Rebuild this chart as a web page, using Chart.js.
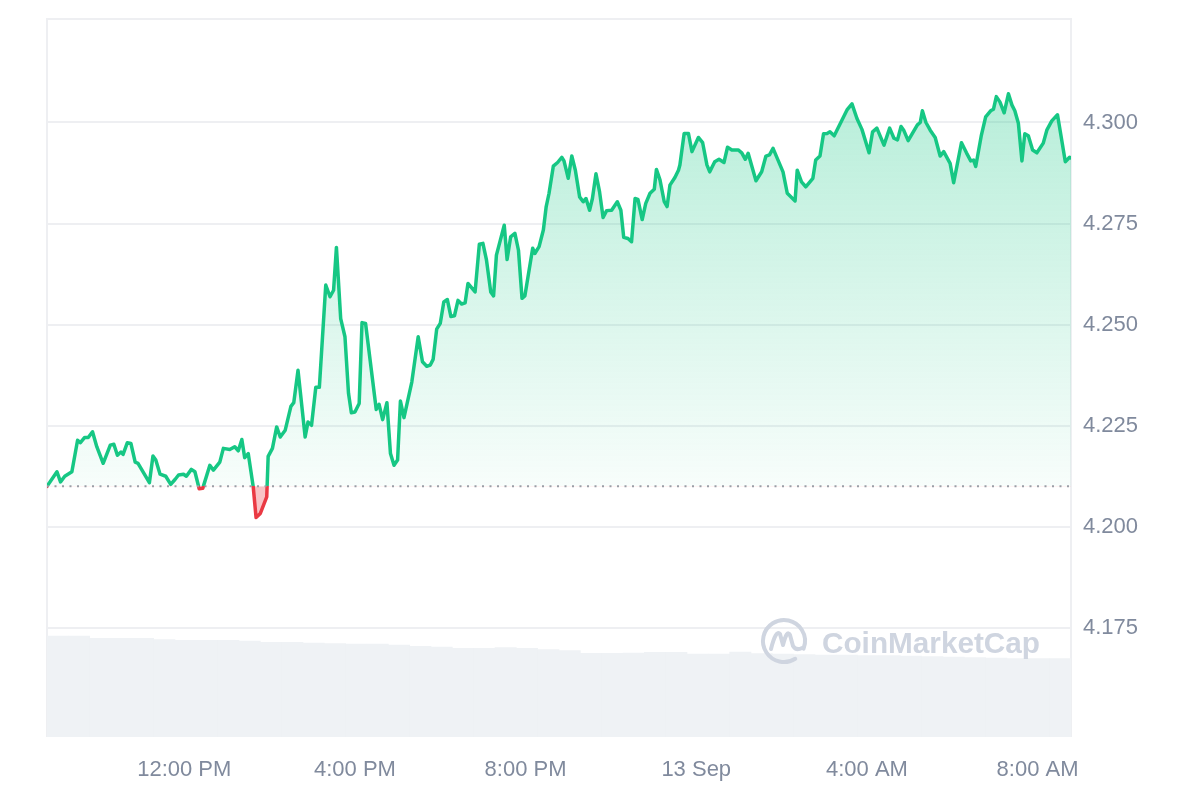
<!DOCTYPE html>
<html>
<head>
<meta charset="utf-8">
<title>Price chart</title>
<script src="https://cdn.jsdelivr.net/npm/chart.js@4.4.0/dist/chart.umd.min.js"></script>
<style>
  html, body { margin: 0; padding: 0; background: #ffffff; }
  #wrap { width: 1200px; height: 800px; }
</style>
</head>
<body>
<div id="wrap"><canvas id="priceChart" width="1200" height="800"></canvas></div>
<script>
        // --- Data (time = minutes since 00:00, 12 Sep) ---
        const priceTimes = [
            527, 541, 546, 552, 562, 570, 574, 580, 585, 591, 597, 606, 616, 621, 626, 631, 634, 640, 645, 651,
            655, 671, 676, 680, 686, 694, 701, 707, 712, 719, 723, 730, 735, 741, 746, 756, 761, 770, 775, 784,
            791, 796, 801, 805, 810, 817, 821, 827, 836, 838, 844, 850, 855, 862, 870, 874, 880, 890, 894, 899,
            905, 910, 919, 925, 930, 934, 940, 946, 951, 955, 960, 966, 970, 975, 990, 994, 999, 1005, 1010, 1015,
            1020, 1024, 1029, 1040, 1049, 1055, 1061, 1066, 1070, 1075, 1080, 1085, 1090, 1095, 1100, 1105, 1110, 1115, 1119, 1129,
            1135, 1140, 1145, 1151, 1155, 1159, 1170, 1174, 1179, 1185, 1190, 1195, 1199, 1210, 1213, 1219, 1225, 1229, 1233, 1239,
            1245, 1251, 1254, 1260, 1265, 1270, 1276, 1281, 1285, 1290, 1294, 1299, 1304, 1309, 1314, 1321, 1329, 1334, 1338, 1344,
            1349, 1354, 1358, 1364, 1369, 1375, 1381, 1384, 1389, 1395, 1399, 1403, 1410, 1415, 1417, 1423, 1429, 1434, 1443, 1449,
            1455, 1459, 1466, 1472, 1479, 1484, 1490, 1499, 1504, 1509, 1513, 1524, 1532, 1538, 1543, 1548, 1555, 1562, 1568, 1579,
            1582, 1588, 1594, 1604, 1608, 1614, 1619, 1624, 1628, 1634, 1645, 1652, 1659, 1666, 1673, 1683, 1688, 1694, 1704, 1712,
            1718, 1723, 1728, 1732, 1738, 1751, 1755, 1758, 1763, 1769, 1776, 1783, 1788, 1797, 1802, 1813, 1820, 1826, 1830, 1833,
            1841, 1847, 1854, 1858, 1862, 1867, 1873, 1879, 1884, 1888, 1893, 1898, 1902, 1907, 1913, 1919, 1928, 1933, 1940, 1948,
            1952, 1959, 1965, 1967
        ];
        const priceValues = [
            4.2100, 4.2136, 4.2111, 4.2125, 4.2136, 4.2214, 4.2208, 4.2221, 4.2221, 4.2235, 4.2198, 4.2157, 4.2202, 4.2204, 4.2177, 4.2185, 4.2179, 4.2208, 4.2206, 4.2160,
            4.2157, 4.2109, 4.2175, 4.2165, 4.2130, 4.2125, 4.2105, 4.2117, 4.2128, 4.2130, 4.2125, 4.2142, 4.2136, 4.2094, 4.2095, 4.2152, 4.2140, 4.2160, 4.2194, 4.2191,
            4.2198, 4.2188, 4.2216, 4.2171, 4.2181, 4.2099, 4.2023, 4.2033, 4.2074, 4.2174, 4.2194, 4.2247, 4.2222, 4.2239, 4.2298, 4.2307, 4.2387, 4.2222, 4.2259, 4.2251,
            4.2345, 4.2345, 4.2598, 4.2569, 4.2585, 4.2691, 4.2515, 4.2470, 4.2330, 4.2282, 4.2284, 4.2305, 4.2505, 4.2503, 4.2290, 4.2303, 4.2265, 4.2307, 4.2181, 4.2152,
            4.2165, 4.2311, 4.2270, 4.2358, 4.2470, 4.2408, 4.2397, 4.2400, 4.2414, 4.2489, 4.2503, 4.2556, 4.2562, 4.2520, 4.2522, 4.2560, 4.2551, 4.2554, 4.2602, 4.2581,
            4.2699, 4.2701, 4.2660, 4.2581, 4.2571, 4.2672, 4.2746, 4.2661, 4.2717, 4.2726, 4.2684, 4.2565, 4.2571, 4.2689, 4.2676, 4.2693, 4.2734, 4.2792, 4.2825, 4.2892,
            4.2901, 4.2914, 4.2905, 4.2862, 4.2917, 4.2882, 4.2816, 4.2804, 4.2812, 4.2783, 4.2812, 4.2873, 4.2829, 4.2765, 4.2782, 4.2783, 4.2804, 4.2783, 4.2716, 4.2713,
            4.2705, 4.2812, 4.2810, 4.2760, 4.2800, 4.2825, 4.2835, 4.2884, 4.2858, 4.2804, 4.2792, 4.2845, 4.2864, 4.2882, 4.2895, 4.2973, 4.2973, 4.2928, 4.2963, 4.2950,
            4.2895, 4.2878, 4.2903, 4.2909, 4.2901, 4.2939, 4.2932, 4.2932, 4.2925, 4.2909, 4.2924, 4.2856, 4.2878, 4.2917, 4.2920, 4.2936, 4.2907, 4.2878, 4.2825, 4.2806,
            4.2882, 4.2853, 4.2841, 4.2862, 4.2907, 4.2917, 4.2972, 4.2973, 4.2977, 4.2967, 4.3006, 4.3031, 4.3046, 4.3010, 4.2983, 4.2925, 4.2977, 4.2986, 4.2944, 4.2986,
            4.2961, 4.2957, 4.2990, 4.2980, 4.2955, 4.2994, 4.3000, 4.3029, 4.3000, 4.2981, 4.2963, 4.2917, 4.2928, 4.2899, 4.2851, 4.2950, 4.2925, 4.2905, 4.2907, 4.2891,
            4.2969, 4.3014, 4.3029, 4.3033, 4.3064, 4.3051, 4.3024, 4.3071, 4.3043, 4.3029, 4.2998, 4.2905, 4.2972, 4.2967, 4.2932, 4.2925, 4.2949, 4.2981, 4.3004, 4.3019,
            4.2977, 4.2903, 4.2914, 4.2912
        ];

        // volume, half-hour buckets (millions)
        const volumeTimes = [
            542, 572, 602, 632, 662, 692, 722, 752, 782, 812, 842, 872, 902, 932, 962, 992,
            1022, 1052, 1082, 1112, 1142, 1172, 1202, 1232, 1262, 1292, 1322, 1352, 1382, 1412, 1442, 1472,
            1502, 1532, 1562, 1592, 1622, 1652, 1682, 1712, 1742, 1772, 1802, 1832, 1862, 1892, 1922, 1952
        ];
        const volumeValues = [
            10.10, 10.10, 9.87, 9.87, 9.87, 9.75, 9.67, 9.67, 9.67, 9.60, 9.47, 9.47, 9.40, 9.35, 9.30, 9.30,
            9.20, 9.07, 9.00, 8.87, 8.87, 8.95, 8.87, 8.75, 8.65, 8.36, 8.36, 8.40, 8.46, 8.46, 8.30, 8.30,
            8.50, 8.35, 8.30, 8.25, 8.20, 8.20, 8.15, 8.15, 8.10, 8.05, 8.00, 7.95, 7.90, 7.85, 7.84, 7.84
        ];

        const xTickMinutes = [720, 960, 1200, 1440, 1680, 1920];
        const xTickLabels = ['12:00 PM', '4:00 PM', '8:00 PM', '13 Sep', '4:00 AM', '8:00 AM'];
        const yTickValues = [4.175, 4.200, 4.225, 4.250, 4.275, 4.300];

        const baseline = priceValues[0];

        // Colors
        const GREEN = '#16c784';
        const RED = '#ea3943';
        const GRID = '#eeeff2';
        const LABEL = '#808a9d';
        const FONT = "'Liberation Sans', Arial, sans-serif";

        // --- Gradients ---
        function lineGradient(chart) {
            const area = chart.chartArea;
            if (!area) return GREEN;
            const baseY = chart.scales.y.getPixelForValue(baseline);
            const f = Math.min(1, Math.max(0, (baseY - area.top) / (area.bottom - area.top)));
            const g = chart.ctx.createLinearGradient(0, area.top, 0, area.bottom);
            g.addColorStop(0, GREEN);
            g.addColorStop(f, GREEN);
            g.addColorStop(f, RED);
            g.addColorStop(1, RED);
            return g;
        }

        function fillGradient(chart) {
            const area = chart.chartArea;
            if (!area) return 'rgba(22, 199, 132, 0.15)';
            const baseY = chart.scales.y.getPixelForValue(baseline);
            const g = chart.ctx.createLinearGradient(0, area.top, 0, baseY);
            g.addColorStop(0, 'rgba(22, 199, 132, 0.36)');
            g.addColorStop(1, 'rgba(22, 199, 132, 0.03)');
            return g;
        }

        // --- Frame + watermark ---
        const framePlugin = {
            id: 'frame',
            beforeDatasetsDraw(chart) {
                const { ctx, chartArea: a } = chart;
                ctx.save();
                ctx.strokeStyle = GRID;
                ctx.lineWidth = 2;
                ctx.beginPath();
                ctx.moveTo(a.left, a.bottom);
                ctx.lineTo(a.left, a.top);
                ctx.lineTo(a.right, a.top);
                ctx.lineTo(a.right, a.bottom);
                ctx.stroke();
                ctx.restore();
            },
            afterDatasetsDraw(chart) {
                const { ctx, chartArea: a } = chart;
                const cx = a.right - 287;
                const cy = a.bottom - 96;
                ctx.save();
                ctx.strokeStyle = '#cfd5e0';
                ctx.fillStyle = '#cfd5e0';
                ctx.lineWidth = 4;
                ctx.lineCap = 'round';
                ctx.lineJoin = 'round';
                ctx.beginPath();
                ctx.arc(cx, cy, 21, 0.32 * Math.PI, 2.12 * Math.PI);
                ctx.stroke();
                ctx.beginPath();
                ctx.moveTo(cx - 13, cy + 8);
                ctx.quadraticCurveTo(cx - 8, cy - 12, cx - 4, cy - 7);
                ctx.lineTo(cx - 1, cy + 4);
                ctx.quadraticCurveTo(cx + 3, cy - 12, cx + 6, cy - 6);
                ctx.lineTo(cx + 9, cy + 5);
                ctx.quadraticCurveTo(cx + 12, cy + 10, cx + 18, cy + 7);
                ctx.stroke();
                ctx.font = 'bold 30px ' + FONT;
                ctx.textBaseline = 'alphabetic';
                ctx.fillText('CoinMarketCap', cx + 38, cy + 12, 218);
                ctx.restore();
            }
        };

        // --- Chart ---
        const priceData = priceTimes.map((t, i) => ({ x: t, y: priceValues[i] }));
        const volumeData = volumeTimes.map((t, i) => ({ x: t, y: volumeValues[i] }));
        const baselineData = [
            { x: priceTimes[0], y: baseline },
            { x: priceTimes[priceTimes.length - 1], y: baseline }
        ];

        const chart = new Chart(document.getElementById('priceChart'), {
            type: 'line',
            data: {
                datasets: [
                    {
                        label: 'open',
                        data: baselineData,
                        borderColor: '#9a9ea6',
                        borderWidth: 2,
                        borderDash: [2, 5.5],
                        pointRadius: 0,
                        fill: false,
                        order: 0
                    },
                    {
                        label: 'price',
                        data: priceData,
                        borderColor: (c) => lineGradient(c.chart),
                        backgroundColor: (c) => fillGradient(c.chart),
                        fill: { target: { value: baseline }, below: 'rgba(234, 57, 67, 0.3)' },
                        borderWidth: 3.5,
                        borderJoinStyle: 'round',
                        borderCapStyle: 'round',
                        tension: 0,
                        pointRadius: 0,
                        order: 1
                    },
                    {
                        type: 'bar',
                        label: 'volume',
                        data: volumeData,
                        yAxisID: 'vol',
                        backgroundColor: '#eff2f5',
                        borderWidth: 0,
                        barPercentage: 1,
                        categoryPercentage: 1,
                        order: 2
                    }
                ]
            },
            options: {
                responsive: false,
                animation: false,
                events: [],
                layout: { padding: { left: 47, top: 19, right: 0, bottom: 0 } },
                scales: {
                    x: {
                        type: 'linear',
                        min: 527,
                        max: 1967,
                        offset: false,
                        grid: { display: false },
                        border: { display: false },
                        afterBuildTicks: (s) => { s.ticks = xTickMinutes.map(v => ({ value: v })); },
                        afterFit: (s) => { s.height = 63; s.paddingLeft = 0; s.paddingRight = 0; },
                        ticks: {
                            autoSkip: false,
                            maxRotation: 0,
                            padding: 12,
                            color: LABEL,
                            font: { family: FONT, size: 22 },
                            callback: (v) => xTickLabels[xTickMinutes.indexOf(v)]
                        }
                    },
                    y: {
                        position: 'right',
                        min: 4.148,
                        max: 4.3256,
                        grid: { color: GRID, lineWidth: 2, drawTicks: false },
                        border: { display: false },
                        afterBuildTicks: (s) => { s.ticks = yTickValues.map(v => ({ value: v })); },
                        afterFit: (s) => { s.width = 129; s.paddingTop = 0; s.paddingBottom = 0; },
                        ticks: {
                            padding: 12,
                            color: LABEL,
                            font: { family: FONT, size: 22 },
                            callback: (v) => v.toFixed(3)
                        }
                    },
                    vol: {
                        display: false,
                        min: 0,
                        max: 71.8
                    }
                },
                plugins: {
                    legend: { display: false },
                    tooltip: { enabled: false }
                }
            },
            plugins: [framePlugin]
        });
</script>
</body>
</html>
